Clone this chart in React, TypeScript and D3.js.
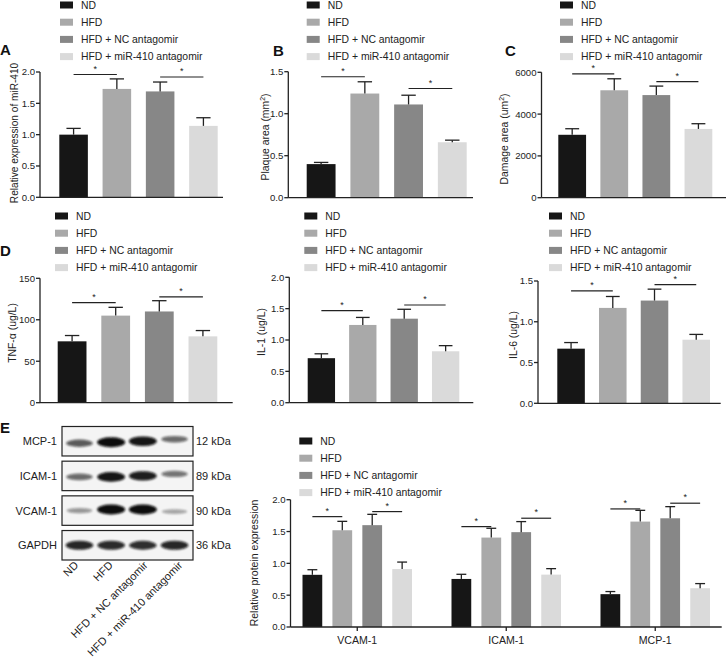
import React from "react";
import * as d3 from "d3";

const groups = ["ND", "HFD", "HFD + NC antagomir", "HFD + miR-410 antagomir"];
const colors = ["#161616", "#a9a9a9", "#878787", "#dadada"];

// Panel A
const aVals = [1.0, 1.73, 1.69, 1.14];
const aErr = [0.1, 0.16, 0.15, 0.13];
const aSig = [1.96, 1.92];
const aTicks = [0, 0.5, 1.0, 1.5, 2.0];
// Panel B
const bVals = [0.4, 1.24, 1.11, 0.66];
const bErr = [0.02, 0.14, 0.11, 0.025];
const bSig = [1.44, 1.3];
const bTicks = [0, 0.5, 1.0, 1.5];
// Panel C
const cVals = [3010, 5140, 4910, 3290];
const cErr = [290, 550, 430, 250];
const cSig = [5920, 5550];
const cTicks = [0, 2000, 4000, 6000];
// Panel D (TNF-a, IL-1, IL-6)
const tnfVals = [74, 105, 110, 80];
const tnfErr = [7, 10, 13, 7];
const tnfSig = [120.6, 127.5];
const tnfTicks = [0, 50, 100, 150];
const il1Vals = [0.71, 1.24, 1.34, 0.82];
const il1Err = [0.07, 0.12, 0.15, 0.09];
const il1Sig = [1.467, 1.558];
const il1Ticks = [0, 0.5, 1.0, 1.5, 2.0];
const il6Vals = [0.67, 1.17, 1.26, 0.78];
const il6Err = [0.075, 0.14, 0.14, 0.065];
const il6Sig = [1.378, 1.455];
const il6Ticks = [0, 0.5, 1.0, 1.5];
// Panel E
const proteins = ["VCAM-1", "ICAM-1", "MCP-1"];
const eVals = [
  [0.82, 1.52, 1.6, 0.91],
  [0.755, 1.405, 1.49, 0.823],
  [0.516, 1.656, 1.708, 0.609],
];
const eErr = [
  [0.08, 0.14, 0.17, 0.11],
  [0.073, 0.146, 0.166, 0.094],
  [0.041, 0.177, 0.183, 0.073],
];
const eSig = [
  [1.734, 1.813],
  [1.577, 1.709],
  [1.855, 1.945],
];
const eTicks = [0, 0.5, 1.0, 1.5, 2.0];
// Western blot
const blotMarkers = ["MCP-1", "ICAM-1", "VCAM-1", "GAPDH"];
const blotKda = ["12 kDa", "89 kDa", "90 kDa", "36 kDa"];
const blotIntensity = [
  [0.55, 1.0, 0.95, 0.45],
  [0.45, 0.95, 0.9, 0.4],
  [0.2, 1.0, 1.0, 0.12],
  [0.85, 0.82, 0.8, 0.85],
];
const blotShift = [
  [2, 1, 0, -2],
  [1, 1, 0, -2],
  [0, -1, -1, 1],
  [0, 0, 0, 0],
];

const FONT = "'Liberation Sans', Arial, sans-serif";
const TXT = "#222";
const LEG = 10.4;
const TICK = 9.6;

type PanelProps = {
  letter?: string;
  letterX?: number;
  letterY?: number;
  vals: number[];
  errs: number[];
  sig: number[];
  ticks: number[];
  fmt: string;
  yMax: number;
  y0: number;
  y1: number;
  axisX: number;
  axisEnd: number;
  barStart: number;
  barEnd: number;
  legX: number;
  legY: number;
  title: React.ReactNode;
  titleX: number;
  titleY: number;
  titleSize?: number;
};

function Legend({ x, y }: { x: number; y: number }) {
  return (
    <g>
      {groups.map((g, i) => (
        <g key={g} transform={`translate(${x},${y + i * 17.2})`}>
          <rect x={0} y={-3.5} width={13} height={7} fill={colors[i]} />
          <text x={21} y={3.8} fontSize={LEG} fill={TXT} fontFamily={FONT}>
            {g}
          </text>
        </g>
      ))}
    </g>
  );
}

function YAxis({ x, y, ticks, fmt, top, bottom }: any) {
  const f = d3.format(fmt);
  return (
    <g>
      <line x1={x} x2={x} y1={top} y2={bottom} stroke="#222" strokeWidth={1.3} />
      {ticks.map((t: number) => (
        <g key={t}>
          <line x1={x - 4} x2={x} y1={y(t)} y2={y(t)} stroke="#222" strokeWidth={1.3} />
          <text x={x - 5} y={y(t) + 3.4} fontSize={TICK} textAnchor="end" fill={TXT} fontFamily={FONT}>
            {f(t)}
          </text>
        </g>
      ))}
    </g>
  );
}

function Bars({ x, y, vals, errs, w }: any) {
  return (
    <g>
      {vals.map((v: number, i: number) => {
        const bx = x(i);
        const cx = bx + w / 2;
        return (
          <g key={i}>
            <rect x={bx} y={y(v)} width={w} height={y(0) - y(v)} fill={colors[i]} />
            <line x1={cx} x2={cx} y1={y(v)} y2={y(v + errs[i])} stroke="#222" strokeWidth={1.3} />
            <line x1={cx - w / 4} x2={cx + w / 4} y1={y(v + errs[i])} y2={y(v + errs[i])} stroke="#222" strokeWidth={1.3} />
          </g>
        );
      })}
    </g>
  );
}

function Sig({ x, y, w, sig }: any) {
  const pairs = [
    [0, 1],
    [2, 3],
  ];
  return (
    <g>
      {pairs.map(([a, b], k) => {
        const xa = x(a) + w / 2;
        const xb = x(b) + w / 2;
        const yy = y(sig[k]);
        return (
          <g key={k}>
            <line x1={xa} x2={xb} y1={yy} y2={yy} stroke="#222" strokeWidth={1.2} />
            <text x={(xa + xb) / 2} y={yy - 3} fontSize={9} textAnchor="middle" fill={TXT} fontFamily={FONT}>
              *
            </text>
          </g>
        );
      })}
    </g>
  );
}

function BarPanel(p: PanelProps) {
  const y = d3.scaleLinear().domain([0, p.yMax]).range([p.y0, p.y1]);
  const xb = d3
    .scaleBand<number>()
    .domain([0, 1, 2, 3])
    .range([p.barStart, p.barEnd])
    .paddingInner(0.34)
    .paddingOuter(0);
  const w = xb.bandwidth();
  const x = (i: number) => xb(i) as number;
  return (
    <g>
      <Legend x={p.legX} y={p.legY} />
      {p.letter && (
        <text x={p.letterX} y={p.letterY} fontSize={15} fontWeight="bold" fill="#111" fontFamily={FONT}>
          {p.letter}
        </text>
      )}
      <Bars x={x} y={y} vals={p.vals} errs={p.errs} w={w} />
      <Sig x={x} y={y} w={w} sig={p.sig} />
      <YAxis x={p.axisX} y={y} ticks={p.ticks} fmt={p.fmt} top={p.y1} bottom={p.y0} />
      <line x1={p.axisX} x2={p.axisEnd} y1={p.y0} y2={p.y0} stroke="#222" strokeWidth={1.3} />
      <text
        transform={`translate(${p.titleX},${p.titleY}) rotate(-90)`}
        textAnchor="middle"
        fontSize={p.titleSize ?? 10.4}
        fill={TXT}
        fontFamily={FONT}
      >
        {p.title}
      </text>
    </g>
  );
}

function Blot() {
  const lanes = d3.scaleBand<number>().domain([0, 1, 2, 3]).range([66, 188]).paddingInner(0.15);
  const labelX = d3.scalePoint<number>().domain([0, 1, 2, 3]).range([79, 183]);
  const boxTop = d3.scaleBand<number>().domain([0, 1, 2, 3]).range([426.5, 560]).paddingInner(0.15);
  return (
    <g>
      <defs>
        <filter id="blur" x="-30%" y="-100%" width="160%" height="300%">
          <feGaussianBlur stdDeviation="1.3" />
        </filter>
      </defs>
      {blotMarkers.map((m, r) => {
        const top = boxTop(r) as number;
        const h = boxTop.bandwidth();
        const cy = top + h / 2;
        return (
          <g key={m}>
            <rect x={62} y={top} width={131} height={h} fill="#f4f4f4" stroke="#222" strokeWidth={1.2} />
            {blotIntensity[r].map((v, l) => {
              const cx = (lanes(l) as number) + lanes.bandwidth() / 2;
              const rx = lanes.bandwidth() / 2 - 1 + v * 1.5;
              const ry = 2 + v * 3;
              return (
                <ellipse
                  key={l}
                  cx={cx}
                  cy={cy + blotShift[r][l]}
                  rx={rx}
                  ry={ry}
                  fill="#0a0a0a"
                  opacity={0.25 + 0.75 * v}
                  filter="url(#blur)"
                />
              );
            })}
            <text x={57} y={cy + 4} fontSize={11} textAnchor="end" fill={TXT} fontFamily={FONT}>
              {m}
            </text>
            <text x={196} y={cy + 4} fontSize={11} fill={TXT} fontFamily={FONT}>
              {blotKda[r]}
            </text>
          </g>
        );
      })}
      {groups.map((g, i) => (
        <text
          key={g}
          transform={`translate(${labelX(i)},566) rotate(-45)`}
          textAnchor="end"
          fontSize={11}
          fill={TXT}
          fontFamily={FONT}
        >
          {g}
        </text>
      ))}
    </g>
  );
}

function PanelE() {
  const y0 = 627;
  const y1 = 499.7;
  const axisX = 290.5;
  const y = d3.scaleLinear().domain([0, 2]).range([y0, y1]);
  const gx = d3.scaleBand<string>().domain(proteins).range([302.5, 710]).paddingInner(0.265).paddingOuter(0);
  const inner = d3.scaleBand<number>().domain([0, 1, 2, 3]).range([0, gx.bandwidth()]).paddingInner(0.34);
  const w = inner.bandwidth();
  return (
    <g>
      <Legend x={299.3} y={441} />
      {proteins.map((p, k) => {
        const x = (i: number) => (gx(p) as number) + (inner(i) as number);
        const c = (gx(p) as number) + gx.bandwidth() / 2;
        return (
          <g key={p}>
            <Bars x={x} y={y} vals={eVals[k]} errs={eErr[k]} w={w} />
            <Sig x={x} y={y} w={w} sig={eSig[k]} />
            <line x1={c} x2={c} y1={y0} y2={y0 + 4} stroke="#222" strokeWidth={1.3} />
            <text x={c} y={y0 + 17} fontSize={10.6} textAnchor="middle" fill={TXT} fontFamily={FONT}>
              {p}
            </text>
          </g>
        );
      })}
      <YAxis x={axisX} y={y} ticks={eTicks} fmt=".1f" top={y1} bottom={y0} />
      <line x1={axisX} x2={721.7} y1={y0} y2={y0} stroke="#222" strokeWidth={1.3} />
      <text
        transform={`translate(258,563) rotate(-90)`}
        textAnchor="middle"
        fontSize={10.5}
        fill={TXT}
        fontFamily={FONT}
      >
        Relative protein expression
      </text>
    </g>
  );
}

export default function App() {
  return (
    <svg
      width={727}
      height={662}
      style={{ position: "absolute", left: 0, top: 0, background: "#fff" }}
      fontFamily={FONT}
    >
      <rect width={727} height={662} fill="#fff" />
      <BarPanel
        letter="A" letterX={0} letterY={55}
        vals={aVals} errs={aErr} sig={aSig} ticks={aTicks} fmt=".1f" yMax={2}
        y0={197.3} y1={72} axisX={40} axisEnd={223} barStart={59.3} barEnd={217.7}
        legX={60} legY={5} title="Relative expression of miR-410" titleX={18} titleY={133} titleSize={10.1}
      />
      <BarPanel
        letter="B" letterX={273} letterY={56}
        vals={bVals} errs={bErr} sig={bSig} ticks={bTicks} fmt=".1f" yMax={1.5}
        y0={197.7} y1={71.7} axisX={288.3} axisEnd={473} barStart={306.7} barEnd={466.7}
        legX={306.7} legY={5}
        title={<>Plaque area (mm<tspan dy={-4} fontSize={7}>2</tspan><tspan dy={4}>)</tspan></>}
        titleX={268.5} titleY={137}
      />
      <BarPanel
        letter="C" letterX={505} letterY={56}
        vals={cVals} errs={cErr} sig={cSig} ticks={cTicks} fmt="d" yMax={6000}
        y0={197.7} y1={72.3} axisX={541.5} axisEnd={726} barStart={558.3} barEnd={712.3}
        legX={560} legY={5}
        title={<>Damage area (um<tspan dy={-4} fontSize={7}>2</tspan><tspan dy={4}>)</tspan></>}
        titleX={507.5} titleY={139}
      />
      <BarPanel
        letter="D" letterX={0} letterY={256}
        vals={tnfVals} errs={tnfErr} sig={tnfSig} ticks={tnfTicks} fmt="d" yMax={150}
        y0={402.7} y1={278.3} axisX={40} axisEnd={232.7} barStart={57.7} barEnd={217.3}
        legX={55} legY={216} title="TNF-α (ug/L)" titleX={16} titleY={333}
      />
      <BarPanel
        vals={il1Vals} errs={il1Err} sig={il1Sig} ticks={il1Ticks} fmt=".1f" yMax={2}
        y0={402.7} y1={277.3} axisX={289.3} axisEnd={473.3} barStart={307.7} barEnd={459.3}
        legX={304.3} legY={216} title="IL-1 (ug/L)" titleX={264.5} titleY={332}
      />
      <BarPanel
        vals={il6Vals} errs={il6Err} sig={il6Sig} ticks={il6Ticks} fmt=".1f" yMax={1.5}
        y0={403.3} y1={281} axisX={538} axisEnd={720.7} barStart={557.3} barEnd={710}
        legX={549} legY={216} title="IL-6 (ug/L)" titleX={516.5} titleY={335}
      />
      <text x={0} y={433} fontSize={15} fontWeight="bold" fill="#111" fontFamily={FONT}>
        E
      </text>
      <Blot />
      <PanelE />
    </svg>
  );
}
